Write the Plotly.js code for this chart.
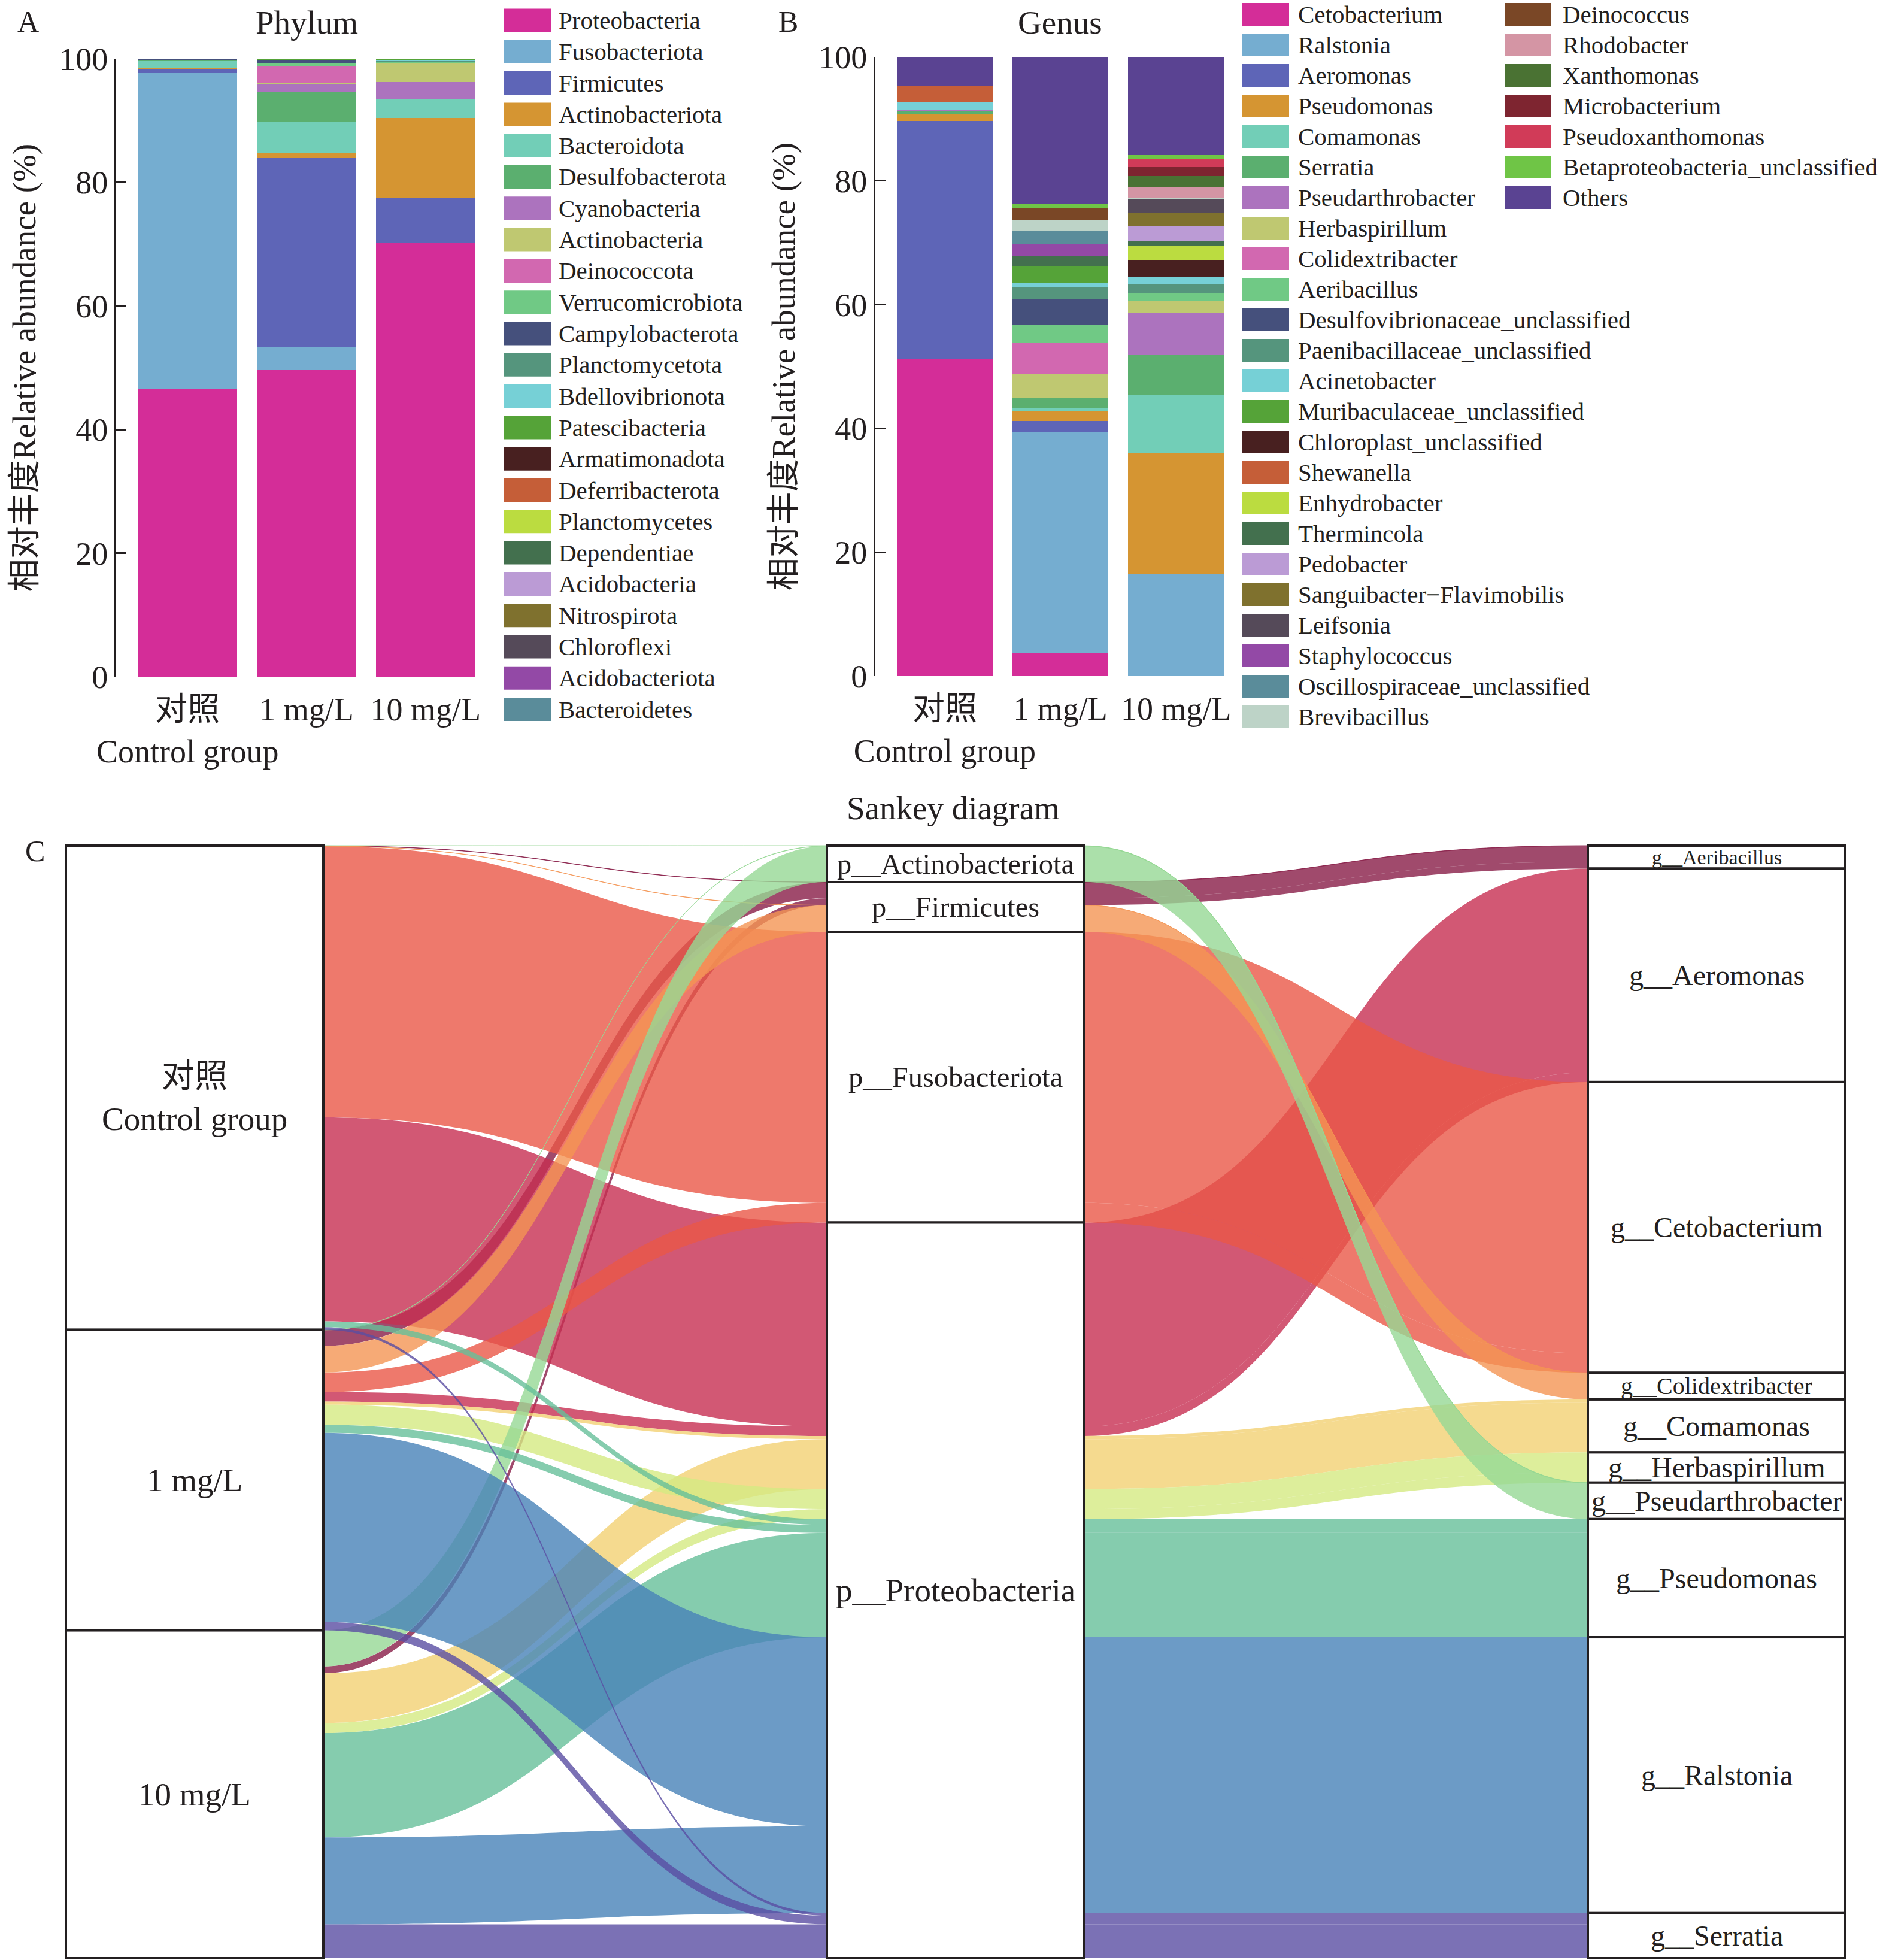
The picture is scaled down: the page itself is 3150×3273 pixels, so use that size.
<!DOCTYPE html>
<html><head><meta charset="utf-8">
<script src="https://cdn.plot.ly/plotly-3.0.1.min.js"></script>
<style>html,body{margin:0;padding:0;background:#fff;} #chart{width:3150px;height:3273px;}</style>
</head><body><div id="chart"></div>
<script>
// ---------------- DATA ----------------
const groups = ['对照', '1 mg/L', '10 mg/L'];
const groupTickText = ['对照<br>Control group', '1 mg/L', '10 mg/L'];

const phylumNames = ['Proteobacteria','Fusobacteriota','Firmicutes','Actinobacteriota','Bacteroidota','Desulfobacterota','Cyanobacteria','Actinobacteria','Deinococcota','Verrucomicrobiota','Campylobacterota','Planctomycetota','Bdellovibrionota','Patescibacteria','Armatimonadota','Deferribacterota','Planctomycetes','Dependentiae','Acidobacteria','Nitrospirota','Chloroflexi','Acidobacteriota','Bacteroidetes'];
const phylumColors = ['#D42D98','#75ADD0','#5E65B7','#D59532','#72CEB7','#5BAF6F','#AC73BE','#BFC871','#D268B0','#70C985','#45507C','#55957D','#76D0D6','#55A338','#482020','#C55E38','#BBDC40','#43704E','#BB9BD5','#7F712E','#554A59','#9349A6','#5A8C9A'];
const phylumControl = [46.5, 51.2, 0.7, 0.1, 1.1, 0.1, 0.05, 0.02, 0.03, 0.03, 0.08, 0.03, 0.01, 0.01, 0.01, 0.01, 0.01, 0.01, 0.01, 0.01, 0.01, 0.01, 0.02];
const phylum1mg = [49.6, 3.8, 30.5, 0.9, 5.0, 4.8, 1.2, 0.2, 2.8, 0.4, 0.5, 0.1, 0.05, 0.05, 0.02, 0.02, 0.01, 0.01, 0.01, 0.01, 0.01, 0.01, 0.01];
const phylum10mg = [70.3, 0, 7.2, 12.9, 3.1, 0.05, 2.7, 3.0, 0.1, 0.1, 0.1, 0.1, 0.2, 0.05, 0.02, 0, 0.02, 0.01, 0.01, 0.01, 0.01, 0.01, 0.01];

const genusNames = ['Cetobacterium','Ralstonia','Aeromonas','Pseudomonas','Comamonas','Serratia','Pseudarthrobacter','Herbaspirillum','Colidextribacter','Aeribacillus','Desulfovibrionaceae_unclassified','Paenibacillaceae_unclassified','Acinetobacter','Muribaculaceae_unclassified','Chloroplast_unclassified','Shewanella','Enhydrobacter','Thermincola','Pedobacter','Sanguibacter\u2212Flavimobilis','Leifsonia','Staphylococcus','Oscillospiraceae_unclassified','Brevibacillus','Deinococcus','Rhodobacter','Xanthomonas','Microbacterium','Pseudoxanthomonas','Betaproteobacteria_unclassified','Others'];
const genusColors = ['#D42D98','#75ADD0','#5E65B7','#D59532','#72CEB7','#5BAF6F','#AC73BE','#BFC871','#D268B0','#70C985','#45507C','#55957D','#76D0D6','#55A338','#482020','#C55E38','#BBDC40','#43704E','#BB9BD5','#7F712E','#554A59','#9349A6','#5A8C9A','#BDD3C7','#7A4726','#D495A4','#4A7233','#7E2530','#D13B58','#6FC546','#5A4392'];
const genusControl = [51.2, 0, 38.5, 1.1, 0, 0.5, 0.05, 0, 0.03, 0.05, 0, 0, 1.2, 0, 0, 2.6, 0, 0, 0, 0, 0, 0, 0, 0, 0, 0, 0, 0, 0, 0, 4.9];
const genus1mg = [3.7, 35.7, 1.8, 1.5, 0.6, 1.6, 0.05, 3.8, 5.0, 3.0, 4.1, 1.9, 0.7, 2.7, 0, 0, 0, 1.6, 0, 0, 0, 2.1, 2.1, 1.6, 2.0, 0, 0, 0, 0, 0.7, 23.8];
const genus10mg = [0, 16.4, 0, 19.7, 9.4, 6.4, 6.8, 1.9, 0, 1.3, 0, 1.4, 1.2, 0, 2.6, 0, 2.4, 0.7, 2.4, 2.3, 2.2, 0, 0, 0.2, 0, 1.7, 1.8, 1.4, 1.4, 0.5, 15.9];

// Sankey (top-10 genera, values taken from the genus table above)
const sankeyGroupLabels = ['对照<br>Control group', '1 mg/L', '10 mg/L'];
const sankeyGenera = ['Aeribacillus','Aeromonas','Cetobacterium','Colidextribacter','Comamonas','Herbaspirillum','Pseudarthrobacter','Pseudomonas','Ralstonia','Serratia'];
const sankeyGenusPhylum = ['p__Firmicutes','p__Proteobacteria','p__Fusobacteriota','p__Firmicutes','p__Proteobacteria','p__Proteobacteria','p__Actinobacteriota','p__Proteobacteria','p__Proteobacteria','p__Proteobacteria'];
const sankeyPhyla = ['p__Actinobacteriota','p__Firmicutes','p__Fusobacteriota','p__Proteobacteria'];
const sankeyColors = ['rgba(136,29,71,0.8)','rgba(199,46,81,0.8)','rgba(234,88,71,0.8)','rgba(244,149,84,0.8)','rgba(243,209,115,0.8)','rgba(213,234,130,0.8)','rgba(150,216,149,0.8)','rgba(103,191,154,0.8)','rgba(71,130,184,0.8)','rgba(90,77,163,0.8)'];

// ---------------- LAYOUT CONSTANTS ----------------
const W = 3150, H = 3273;
const FONT = 'Liberation Serif, Times New Roman, Noto Sans CJK SC, serif';
const INK = '#231F20';
const px = v => v / W;
const py = v => 1 - v / H;

const traces = [];
phylumNames.forEach((n, i) => traces.push({
  type: 'bar', x: groups, y: [phylumControl[i], phylum1mg[i], phylum10mg[i]], name: n,
  marker: {color: phylumColors[i], line: {width: 0}}, xaxis: 'x', yaxis: 'y', showlegend: false
}));
genusNames.forEach((n, i) => traces.push({
  type: 'bar', x: groups, y: [genusControl[i], genus1mg[i], genus10mg[i]], name: n,
  marker: {color: genusColors[i], line: {width: 0}}, xaxis: 'x2', yaxis: 'y2', showlegend: false
}));

// ---- Sankey construction ----
const groupData = [genusControl, genus1mg, genus10mg];
const flows = groupData.map(arr => sankeyGenera.map(g => arr[genusNames.indexOf(g)]));
const genusTot = sankeyGenera.map((g, s) => flows.reduce((a, f) => a + f[s], 0));
const groupTot = flows.map(f => f.reduce((a, b) => a + b, 0));
const total = groupTot.reduce((a, b) => a + b, 0);
// middle column order: by phylum, then genus
const midOrder = sankeyGenera.map((g, s) => s).sort((a, b) =>
  (sankeyPhyla.indexOf(sankeyGenusPhylum[a]) - sankeyPhyla.indexOf(sankeyGenusPhylum[b])) || (a - b));
const nG = 3, nS = sankeyGenera.length;
const midIdx = s => nG + midOrder.indexOf(s);
const genIdx = s => nG + nS + s;

const SK = {x0: 110, x1: 3082, y0: 1412, y1: 3270, T: 430};
const skW = SK.x1 - SK.x0, skH = SK.y1 - SK.y0;
const colX = [SK.T / 2 / skW, 0.5, 1 - SK.T / 2 / skW];

const nodeX = [], nodeY = [];
let cum = 0;
groupTot.forEach(v => { nodeX.push(colX[0]); nodeY.push((cum + v / 2) / total); cum += v; });
const midCenter = {};
cum = 0;
midOrder.forEach(s => { midCenter[s] = [cum, cum + genusTot[s]]; cum += genusTot[s]; });
for (let k = 0; k < nS; k++) { const s = midOrder[k]; nodeX.push(colX[1]); nodeY.push((midCenter[s][0] + midCenter[s][1]) / 2 / total); }
cum = 0;
const genRange = [];
genusTot.forEach(v => { nodeX.push(colX[2]); nodeY.push((cum + v / 2) / total); genRange.push([cum, cum + v]); cum += v; });

const src = [], tgt = [], val = [], lcol = [];
for (let s = 0; s < nS; s++) for (let g = 0; g < nG; g++) if (flows[g][s] > 0) {
  src.push(g); tgt.push(midIdx(s)); val.push(flows[g][s]); lcol.push(sankeyColors[s]);
}
for (let s = 0; s < nS; s++) for (let g = 0; g < nG; g++) if (flows[g][s] > 0) {
  src.push(midIdx(s)); tgt.push(genIdx(s)); val.push(flows[g][s]); lcol.push(sankeyColors[s]);
}

traces.push({
  type: 'sankey', arrangement: 'fixed',
  domain: {x: [px(SK.x0), px(SK.x1)], y: [py(SK.y1), py(SK.y0)]},
  node: {label: new Array(nG + 2 * nS).fill(''), pad: 0, thickness: SK.T, color: 'white',
         line: {color: INK, width: 4}, x: nodeX, y: nodeY, hoverinfo: 'none'},
  link: {source: src, target: tgt, value: val, color: lcol, hoverinfo: 'none'},
  textfont: {size: 1, color: 'rgba(0,0,0,0)'}
});

// ---- annotations / shapes ----
const ann = [], shapes = [];
const txt = (t, x, y, size, extra) => ann.push(Object.assign({text: t, x: px(x), y: py(y), xref: 'paper', yref: 'paper',
  showarrow: false, font: {family: FONT, size: size, color: INK}, xanchor: 'center', yanchor: 'middle'}, extra || {}));

txt('A', 47, 36, 50);
txt('B', 1316, 36, 50);
txt('C', 58, 1421, 50);
txt('Phylum', 512, 38, 55);
txt('Genus', 1771, 38, 55);
txt('Sankey diagram', 1592, 1350, 55);

// legend A
phylumNames.forEach((n, i) => {
  const c = 34 + 52.3 * i;
  shapes.push({type: 'rect', xref: 'paper', yref: 'paper', x0: px(842), x1: px(921), y0: py(c + 19.5), y1: py(c - 19.5),
    fillcolor: phylumColors[i], line: {width: 0}});
  txt(n, 931, c, 41, {xanchor: 'left'});
});
// legend B
genusNames.forEach((n, i) => {
  const col = i < 24 ? 0 : 1, r = col ? i - 24 : i;
  const c = 24 + 51 * r;
  const sx = col ? 2513 : 2075, tx = col ? 2608 : 2166;
  shapes.push({type: 'rect', xref: 'paper', yref: 'paper', x0: px(sx), x1: px(sx + 78), y0: py(c + 19), y1: py(c - 19),
    fillcolor: genusColors[i], line: {width: 0}});
  txt(n, tx, c, 41, {xanchor: 'left'});
});

// sankey labels; phylum boxes drawn over the per-genus middle sub-nodes
const yOf = v => SK.y0 + v / total * skH;
cum = 0;
groupTot.forEach((v, g) => { txt(sankeyGroupLabels[g], SK.x0 + SK.T / 2, yOf(cum + v / 2) + (g === 0 ? 16 : 0), 55); cum += v; });
const midXc = SK.x0 + 0.5 * skW;
sankeyPhyla.forEach(p => {
  const mem = midOrder.filter(s => sankeyGenusPhylum[s] === p);
  if (!mem.length) return;
  const a = midCenter[mem[0]][0], b = midCenter[mem[mem.length - 1]][1];
  shapes.push({type: 'rect', xref: 'paper', yref: 'paper', x0: px(midXc - SK.T / 2), x1: px(midXc + SK.T / 2),
    y0: py(yOf(b)), y1: py(yOf(a)), fillcolor: '#ffffff', line: {color: INK, width: 4}, layer: 'above'});
  txt(p, midXc, yOf((a + b) / 2), p === 'p__Proteobacteria' ? 55 : 48.5);
});
const genusLabelSize = {Aeribacillus: 34, Colidextribacter: 40};
sankeyGenera.forEach((g, s) => {
  txt('g__' + g, SK.x1 - SK.T / 2, yOf((genRange[s][0] + genRange[s][1]) / 2), genusLabelSize[g] || 48);
});

const yTitle = '相对丰度Relative abundance (%)';
const yCommon = {range: [0, 100], tickvals: [0, 20, 40, 60, 80, 100], ticks: 'inside', ticklen: 17, tickwidth: 3,
  tickcolor: INK, showline: true, linewidth: 3, linecolor: INK, showgrid: false, zeroline: false,
  tickfont: {family: FONT, size: 54, color: INK}, fixedrange: true,
  title: {text: yTitle, font: {family: FONT, size: 55, color: INK}, standoff: 22}};
const xCommon = {range: [-0.6, 2.6], tickvals: groups, ticktext: groupTickText, type: 'category', showline: false,
  ticks: '', tickangle: 0, ticklabelstandoff: 18, showgrid: false, zeroline: false,
  tickfont: {family: FONT, size: 54, color: INK}, fixedrange: true};

const layout = {
  width: W, height: H, margin: {l: 0, r: 0, t: 0, b: 0}, paper_bgcolor: '#fff', plot_bgcolor: 'rgba(0,0,0,0)',
  barmode: 'stack', bargap: 0.17, showlegend: false, font: {family: FONT, color: INK},
  xaxis: Object.assign({}, xCommon, {domain: [px(194), px(830)], anchor: 'y'}),
  yaxis: Object.assign({}, yCommon, {domain: [py(1130), py(98)], anchor: 'x'}),
  xaxis2: Object.assign({}, xCommon, {domain: [px(1462), px(2080)], anchor: 'y2'}),
  yaxis2: Object.assign({}, yCommon, {domain: [py(1129), py(95)], anchor: 'x2'}),
  annotations: ann, shapes: shapes
};
Plotly.newPlot('chart', traces, layout, {staticPlot: true, displayModeBar: false});
</script></body></html>
